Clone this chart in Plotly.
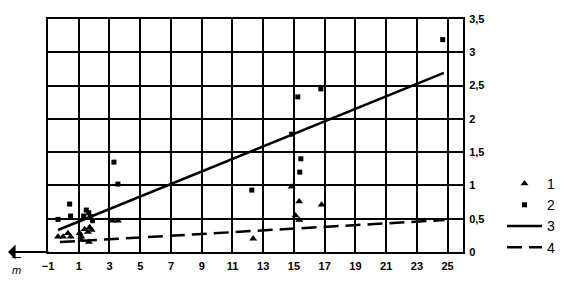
import plotly.graph_objects as go

# Series 1 (triangles)
s1_x = [-0.35, -0.02, 0.3, 0.47, 1.06, 1.17, 1.17, 1.38, 1.6, 1.71, 1.66, 1.84,
        3.18, 3.55, 12.35, 14.85, 15.34, 15.1, 15.35, 16.8]
s1_y = [0.23, 0.23, 0.28, 0.23, 0.28, 0.23, 0.18, 0.34, 0.30, 0.37, 0.15, 0.33,
        0.47, 0.47, 0.20, 0.98, 0.76, 0.55, 0.48, 0.71]
# Series 2 (squares)
s2_x = [-0.35, 0.41, 0.47, 1.32, 1.49, 1.65, 1.75, 1.9, 3.29, 3.55,
        12.26, 14.86, 15.25, 15.38, 15.45, 16.75, 24.68]
s2_y = [0.49, 0.72, 0.54, 0.54, 0.63, 0.59, 0.53, 0.47, 1.35, 1.02,
        0.93, 1.77, 2.33, 1.20, 1.40, 2.45, 3.19]
# Line 3 (solid) and line 4 (dashed)
l3_x = [-0.35, 24.75]
l3_y = [0.33, 2.69]
l4_x = [-0.22, 24.8]
l4_y = [0.15, 0.48]

x_ticks = [-1, 1, 3, 5, 7, 9, 11, 13, 15, 17, 19, 21, 23, 25]
y_ticks = [0, 0.5, 1, 1.5, 2, 2.5, 3, 3.5]
y_labels = ["0", "0,5", "1", "1,5", "2", "2,5", "3", "3,5"]

fig = go.Figure()
fig.add_trace(go.Scatter(x=s1_x, y=s1_y, mode="markers", name="1",
                         marker=dict(symbol="triangle-up", size=7, color="black")))
fig.add_trace(go.Scatter(x=s2_x, y=s2_y, mode="markers", name="2",
                         marker=dict(symbol="square", size=5, color="black")))
fig.add_trace(go.Scatter(x=l3_x, y=l3_y, mode="lines", name="3",
                         line=dict(color="black", width=2.5)))
fig.add_trace(go.Scatter(x=l4_x, y=l4_y, mode="lines", name="4",
                         line=dict(color="black", width=2.5, dash="15px,7px")))

L, R, T, B = 48, 112, 19, 37
W, H = 575, 289
pw = W - L - R
ph = H - T - B

fig.update_layout(
    width=W, height=H,
    margin=dict(l=L, r=R, t=T, b=B, pad=0),
    paper_bgcolor="white", plot_bgcolor="white",
    font=dict(family="Arial", color="black"),
    xaxis=dict(range=[-1, 26], tickvals=x_ticks, showgrid=True, gridcolor="black",
               gridwidth=2, zeroline=False, showline=True, linecolor="black",
               linewidth=2, mirror=True, ticks="", fixedrange=True,
               ticklabelstandoff=3,
               tickfont=dict(size=11, weight="bold")),
    yaxis=dict(range=[0, 3.5], tickvals=y_ticks, ticktext=y_labels, side="right",
               showgrid=True, gridcolor="black", gridwidth=2, zeroline=False,
               showline=True, linecolor="black", linewidth=2, mirror=True,
               ticks="", fixedrange=True, ticklabelstandoff=2,
               tickfont=dict(size=11, weight="bold")),
    legend=dict(x=(502 - L) / pw, y=(H - B - 168) / ph, xanchor="left",
                yanchor="top", font=dict(size=14), itemwidth=35,
                bgcolor="rgba(0,0,0,0)", tracegroupgap=0),
    showlegend=True,
)

# Axis arrow pointing left, and m-bar label
fig.add_annotation(xref="paper", yref="paper", x=(8 - L) / pw, y=0, ax=42, ay=0,
                   axref="pixel", ayref="pixel", text="", showarrow=True,
                   arrowhead=1, arrowsize=1.4, arrowwidth=1.8, arrowcolor="black")
fig.add_annotation(xref="paper", yref="paper", x=(16 - L) / pw, y=-12 / ph,
                   text="<span style='font-size:9px'><b>—</b></span><br><i>m</i>",
                   showarrow=False, font=dict(size=11, color="black"),
                   xanchor="center", yanchor="middle")

fig.write_html("out.html")
